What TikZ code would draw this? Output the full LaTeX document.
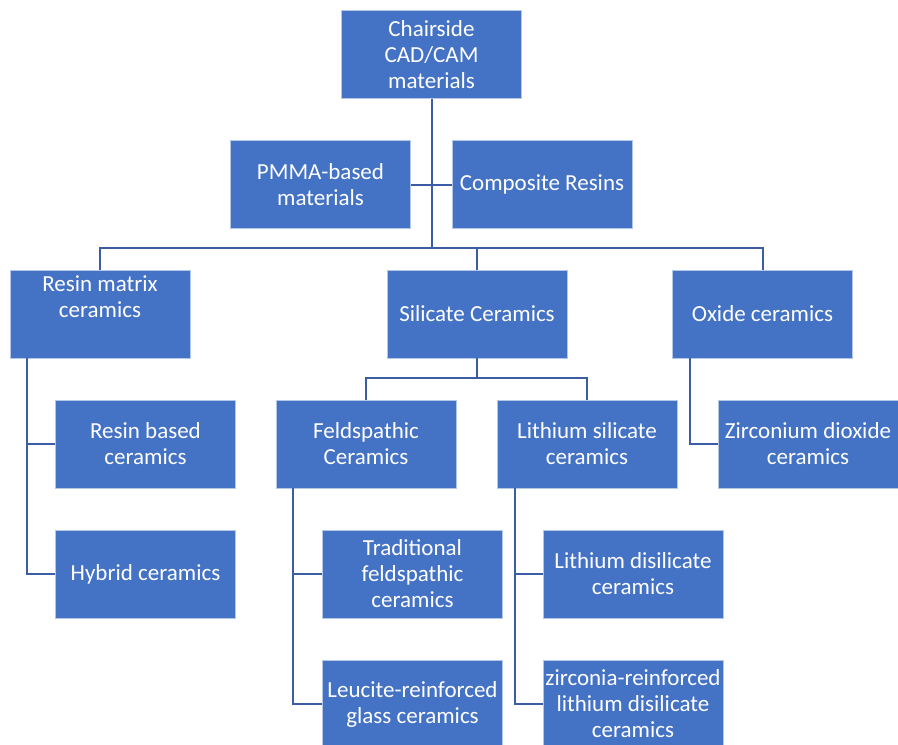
\documentclass[tikz,border=0pt]{standalone}
\usepackage{fontspec}
\setmainfont{Carlito}
\definecolor{boxblue}{HTML}{4472C4}
\definecolor{edgeblue}{HTML}{B4C7E7}
\definecolor{linkblue}{HTML}{3A5DA6}
\begin{document}
\begin{tikzpicture}[x=1pt,y=-1pt,
  cat/.style={rectangle, fill=boxblue, draw=edgeblue, line width=0.8pt,
    minimum width=180pt, minimum height=88pt, inner sep=1pt,
    text=white, align=center, font=\fontsize{23}{26}\selectfont},
  link/.style={draw=linkblue, line width=2pt}]
\useasboundingbox (0,0) rectangle (898,745);

% boxes
\node[cat] (root) at (431.5,54.5) {Chairside\\CAD/CAM\\materials};
\node[cat] (pmma) at (320.5,184.5) {PMMA-based\\materials};
\node[cat] (comp) at (542,184.5) {Composite Resins};
\node[cat] (rmc) at (100,314) {\parbox[c][86pt][t]{176pt}{\centering\vspace{5pt}Resin matrix\\ceramics}};
\node[cat] (sil) at (477,314) {Silicate Ceramics};
\node[cat] (oxi) at (762.5,314) {Oxide ceramics};
\node[cat] (rbc) at (145.5,444) {Resin based\\ceramics};
\node[cat] (hyb) at (145.5,574) {Hybrid ceramics};
\node[cat] (fel) at (366,444) {Feldspathic\\Ceramics};
\node[cat] (lis) at (587,444) {Lithium silicate\\ceramics};
\node[cat] (zrd) at (808,444) {Zirconium dioxide\\ceramics};
\node[cat] (tfc) at (412.5,574) {Traditional\\feldspathic\\ceramics};
\node[cat] (leu) at (412.5,704) {Leucite-reinforced\\glass ceramics};
\node[cat] (lds) at (633,574) {Lithium disilicate\\ceramics};
\node[cat] (zld) at (633,704) {zirconia-reinforced\\lithium disilicate\\ceramics};

% junction points
\coordinate (bar) at (431.5,248);
\coordinate (sbar) at (477,378);
\coordinate (rv) at (27,0);
\coordinate (fv) at (293,0);
\coordinate (lv) at (515,0);
\coordinate (ov) at (690,0);

% trunk from the root and the side pair
\draw[link] (root.south) -- (bar);
\draw[link] (pmma.east) -- (comp.west);
\draw[link] (rmc.north) |- (bar) -| (oxi.north);
\draw[link] (sil.north) -- (sil.north |- bar);

% silicate branch
\draw[link] (sil.south) -- (sbar);
\draw[link] (fel.north) |- (sbar) -| (lis.north);

% left rails with their leaves
\draw[link] (rv |- rmc.south) |- (rbc.west);
\draw[link] (rv |- rmc.south) |- (hyb.west);
\draw[link] (fv |- fel.south) |- (tfc.west);
\draw[link] (fv |- fel.south) |- (leu.west);
\draw[link] (lv |- lis.south) |- (lds.west);
\draw[link] (lv |- lis.south) |- (zld.west);
\draw[link] (ov |- oxi.south) |- (zrd.west);
\end{tikzpicture}
\end{document}
